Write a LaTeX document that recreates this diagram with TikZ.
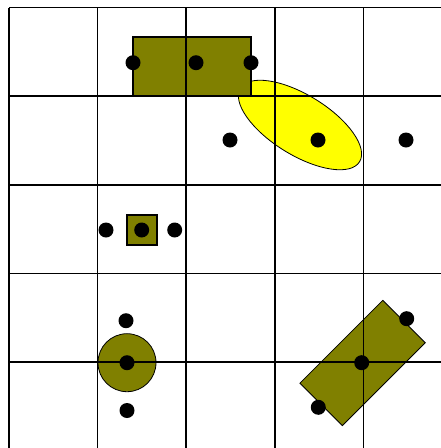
\documentclass[tikz,border=0pt]{standalone}
\definecolor{olivefill}{HTML}{808000}
\definecolor{yellowfill}{HTML}{FFFF00}
\tikzset{
  gridline/.style={line width=1.7pt, black},
  shapeline/.style={line width=1.1pt, black},
  dot/.style={fill=black},
}
\begin{document}
\begin{tikzpicture}[x=1pt,y=-1pt]
\useasboundingbox (0,0) rectangle (441,448);
% yellow ellipse
\begin{scope}[shift={(300,125)}, rotate=-31.7]
  \draw[fill=yellowfill, line width=0.8pt] (0,0) ellipse [x radius=70, y radius=30];
\end{scope}
% top rectangle
\draw[shapeline, fill=olivefill] (133,37) rectangle (251,96);
% small square
\draw[shapeline, fill=olivefill] (127,215) rectangle (157,245);
% circle
\draw[shapeline, fill=olivefill, line width=0.8pt] (127,362.7) circle [radius=29];
% rotated rectangle
\begin{scope}[shift={(362.6,363)}, rotate=45]
  \draw[shapeline, fill=olivefill, line width=0.8pt] (-58.6,-30) rectangle (58.6,30);
\end{scope}
% grid
\foreach \i in {0,...,4} {
  \draw[gridline] ({9+88.6*\i},7.5) -- ({9+88.6*\i},448);
  \draw[gridline] (9,{7.5+88.7*\i}) -- (441,{7.5+88.7*\i});
}
% dots
\foreach \p in {(133,62.7),(196,62.7),(251,62.7),
                (230,140),(318,140),(406,140),
                (106,230),(141.7,230),(174.7,230),
                (126,320.7),(127,362.7),(127,410.5),
                (406.7,318.7),(361.7,362.7),(318.3,407.3)} {
  \fill[dot] \p circle [radius=7.5];
}
\end{tikzpicture}
\end{document}
